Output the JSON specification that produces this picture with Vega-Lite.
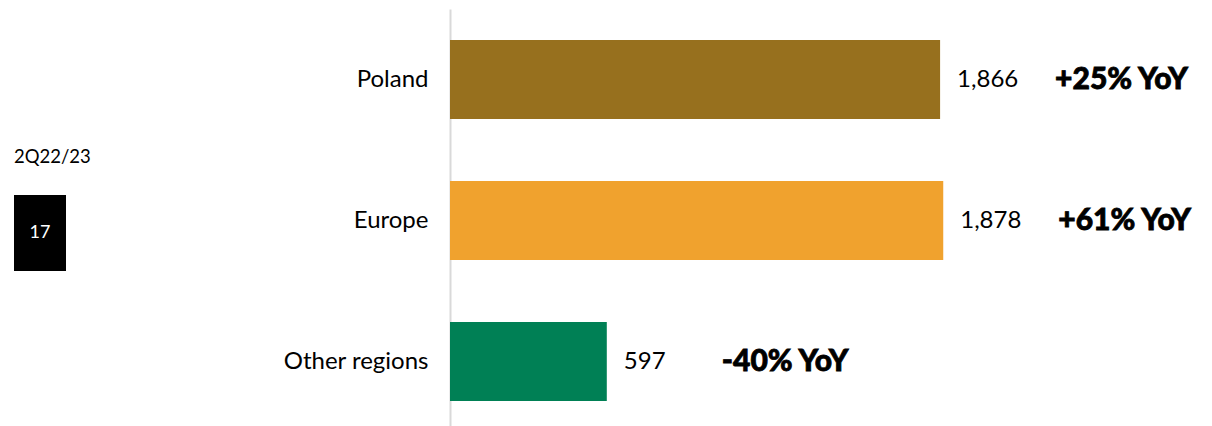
{
  "$schema": "https://vega.github.io/schema/vega-lite/v6.json",
  "padding": {"top": 9, "left": 0, "right": 0, "bottom": 0},
  "background": "white",
  "config": {"view": {"stroke": null}, "font": "Lato"},
  "spacing": 182,
  "hconcat": [
    {
      "width": 100,
      "height": 423,
      "data": {"values": [
        {"item": "period", "label": "2Q22/23", "xa": 14, "xb": 14, "ya": 148, "yb": 148},
        {"item": "box", "label": "17", "xa": 14, "xb": 66, "ya": 186, "yb": 262}
      ]},
      "layer": [
        {
          "transform": [{"filter": "datum.item === 'box'"}],
          "mark": {"type": "rect", "color": "#000000"},
          "encoding": {
            "x": {"field": "xa", "type": "quantitative", "scale": {"domain": [0, 100], "nice": false}, "axis": null},
            "x2": {"field": "xb"},
            "y": {"field": "ya", "type": "quantitative", "scale": {"domain": [0, 423], "nice": false, "reverse": true}, "axis": null},
            "y2": {"field": "yb"}
          }
        },
        {
          "transform": [{"filter": "datum.item === 'box'"}],
          "mark": {"type": "text", "color": "#ffffff", "fontSize": 18, "align": "center", "baseline": "middle", "font": "Lato"},
          "encoding": {
            "x": {"datum": 40, "type": "quantitative"},
            "y": {"datum": 224, "type": "quantitative"},
            "text": {"field": "label"}
          }
        },
        {
          "transform": [{"filter": "datum.item === 'period'"}],
          "mark": {"type": "text", "color": "#000000", "fontSize": 18.5, "align": "left", "baseline": "middle", "font": "Lato"},
          "encoding": {
            "x": {"field": "xa", "type": "quantitative"},
            "y": {"field": "ya", "type": "quantitative"},
            "text": {"field": "label"}
          }
        }
      ]
    },
    {
      "width": 753,
      "height": 423,
      "data": {"values": [
        {"region": "Poland", "value": 1866, "yoy": "+25% YoY"},
        {"region": "Europe", "value": 1878, "yoy": "+61% YoY"},
        {"region": "Other regions", "value": 597, "yoy": "-40% YoY"}
      ]},
      "encoding": {
        "y": {
          "field": "region", "type": "nominal", "sort": null,
          "scale": {"paddingInner": 0.44, "paddingOuter": 0.22},
          "axis": {"title": null, "ticks": false, "labelFont": "Lato", "labelFontSize": 24, "labelColor": "#000000", "labelPadding": 22, "domainColor": "#d9d9d9", "domainWidth": 2, "grid": false}
        },
        "x": {"field": "value", "type": "quantitative", "scale": {"domain": [0, 2867], "nice": false}, "axis": null}
      },
      "layer": [
        {
          "mark": {"type": "bar"},
          "encoding": {
            "color": {"field": "region", "type": "nominal", "scale": {"domain": ["Poland", "Europe", "Other regions"], "range": ["#97701e", "#f0a22e", "#008055"]}, "legend": null}
          }
        },
        {
          "mark": {"type": "text", "align": "left", "baseline": "middle", "dx": 17, "fontSize": 24, "color": "#000000", "font": "Lato"},
          "encoding": {"text": {"field": "value", "type": "quantitative", "format": ","}}
        },
        {
          "mark": {"type": "text", "align": "left", "baseline": "middle", "dx": 115, "fontSize": 30, "fontWeight": 900, "color": "#000000", "stroke": "#000000", "strokeWidth": 0.8, "font": "Lato"},
          "encoding": {"text": {"field": "yoy"}}
        }
      ]
    }
  ]
}
